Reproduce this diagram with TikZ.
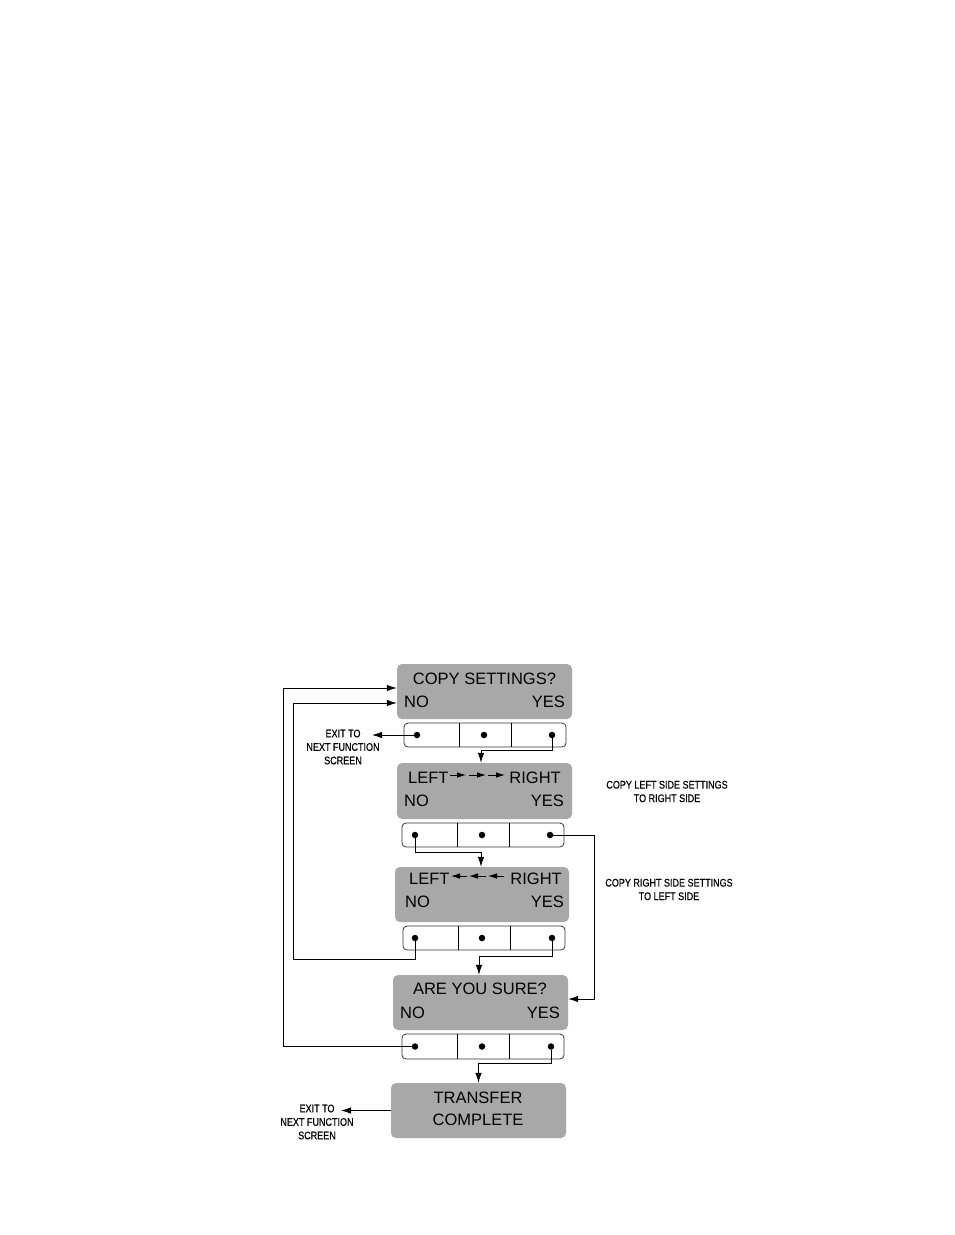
\documentclass[tikz,border=0pt]{standalone}
\usepackage{fontspec}
\setmainfont{Liberation Sans}
\newfontfamily\narrowfont[FakeStretch=0.82,FakeBold=0.4]{Liberation Sans}
\usetikzlibrary{arrows.meta,calc}
\definecolor{screengray}{RGB}{168,168,168}
\begin{document}
\begin{tikzpicture}[x=1pt,y=-1pt,
  screen/.style={fill=screengray, rounded corners=5pt, minimum width=175pt, minimum height=55pt, inner sep=0pt},
  keys/.style={draw=black!80, line width=0.8pt, rounded corners=4pt, minimum width=162pt, minimum height=24pt, inner sep=0pt},
  dot/.style={circle, fill=black, inner sep=0pt, minimum size=6.5pt},
  lcd/.style={font=\fontsize{16.5}{18}\selectfont, inner sep=0pt},
  note/.style={font=\narrowfont\fontsize{11}{13.5}\selectfont, align=center, inner sep=0pt},
  wire/.style={line width=0.85pt},
  link/.style={line width=0.85pt, -{Latex[length=10pt,width=6.5pt]}},
  tinyarrow/.style={line width=0.85pt, -{Latex[length=9pt,width=5.5pt]}}]
\useasboundingbox (0,0) rectangle (954,1235);

% ---------- screens ----------
\node[screen] (b1) at (484.5,691.5) {};
\node[screen, minimum height=56pt] (b2) at (484.5,791) {};
\node[screen, minimum width=174pt] (b3) at (482,894.5) {};
\node[screen] (b4) at (480.5,1002.5) {};
\node[screen] (b5) at (478.5,1110.5) {};

% screen texts
\node[lcd, anchor=base] (t1) at (484.5,684) {COPY SETTINGS?};
\node[lcd, anchor=base west] (n1) at (404,707) {NO};
\node[lcd, anchor=base east] (y1) at (565,707) {YES};

\node[lcd, anchor=base west] (l2) at (408,783) {LEFT};
\node[lcd, anchor=base east] (r2) at (561,783) {RIGHT};
\node[lcd, anchor=base west] (n2) at (404,806) {NO};
\node[lcd, anchor=base east] (y2) at (564,806) {YES};
\draw[tinyarrow] (450,775) -- (466,775);
\draw[tinyarrow] (469,775) -- (486,775);
\draw[tinyarrow] (488,775) -- (505,775);

\node[lcd, anchor=base west] (l3) at (409,884) {LEFT};
\node[lcd, anchor=base east] (r3) at (562,884) {RIGHT};
\node[lcd, anchor=base west] (n3) at (405,907) {NO};
\node[lcd, anchor=base east] (y3) at (564,907) {YES};
\draw[tinyarrow] (467,876) -- (451,876);
\draw[tinyarrow] (486,876) -- (469,876);
\draw[tinyarrow] (504,876) -- (488,876);

\node[lcd, anchor=base] (t4) at (480,994) {ARE YOU SURE?};
\node[lcd, anchor=base west] (n4) at (400,1018) {NO};
\node[lcd, anchor=base east] (y4) at (560,1018) {YES};

\node[lcd, anchor=base] (t5a) at (478,1103) {TRANSFER};
\node[lcd, anchor=base] (t5b) at (478,1125) {COMPLETE};

% ---------- key rows ----------
\node[keys] (k1) at (485,735) {};
\draw[wire] (k1.north -| 459,0) -- (k1.south -| 459,0);
\draw[wire] (k1.north -| 511,0) -- (k1.south -| 511,0);
\node[dot] (d11) at (417,735) {};
\node[dot] (d12) at (484,735) {};
\node[dot] (d13) at (552,735) {};

\node[keys] (k2) at (483,835) {};
\draw[wire] (k2.north -| 457,0) -- (k2.south -| 457,0);
\draw[wire] (k2.north -| 509,0) -- (k2.south -| 509,0);
\node[dot] (d21) at (415,835) {};
\node[dot] (d22) at (482,835) {};
\node[dot] (d23) at (550,835) {};

\node[keys] (k3) at (484,938) {};
\draw[wire] (k3.north -| 458,0) -- (k3.south -| 458,0);
\draw[wire] (k3.north -| 510,0) -- (k3.south -| 510,0);
\node[dot] (d31) at (415,938) {};
\node[dot] (d32) at (482,938) {};
\node[dot] (d33) at (552,938) {};

\node[keys, minimum height=25pt] (k4) at (483,1046.5) {};
\draw[wire] (k4.north -| 457,0) -- (k4.south -| 457,0);
\draw[wire] (k4.north -| 509,0) -- (k4.south -| 509,0);
\node[dot] (d41) at (415,1046.5) {};
\node[dot] (d42) at (482,1046.5) {};
\node[dot] (d43) at (551,1046.5) {};

% ---------- notes ----------
\node[note] (ex1) at (343,747) {EXIT TO\\NEXT FUNCTION\\SCREEN};
\coordinate (ex1tip) at (372,735);
\node[note] (ex2) at (317,1122) {EXIT TO\\NEXT FUNCTION\\SCREEN};
\coordinate (ex2tip) at (341,1110.5);
\node[note] (nt1) at (667,791.5) {COPY LEFT SIDE SETTINGS\\TO RIGHT SIDE};
\node[note] (nt2) at (669,889.5) {COPY RIGHT SIDE SETTINGS\\TO LEFT SIDE};

% ---------- connectors ----------
\draw[link] (d11) -- (ex1tip);
\draw[link] (d13) -- ++(0,15) -| ([xshift=-3.5pt]b2.north);
\draw[link] (d21) -- ++(0,17) -| ([xshift=-1pt]b3.north);
\draw[link] (d23) -- ++(44,0) |- ([yshift=3.5pt]b4.east);
\draw[link] (d31) |- (293,959) |- ([yshift=-11.5pt]b1.west);
\draw[link] (d33) -- ++(0,18) -| ([xshift=-1.5pt]b4.north);
\draw[link] (d41) -| (283,688) -- ([yshift=3.5pt]b1.west);
\draw[link] (d43) -- ++(0,16.5) -| (b5.north);
\draw[link] (b5.west) -- (ex2tip);
\end{tikzpicture}
\end{document}
